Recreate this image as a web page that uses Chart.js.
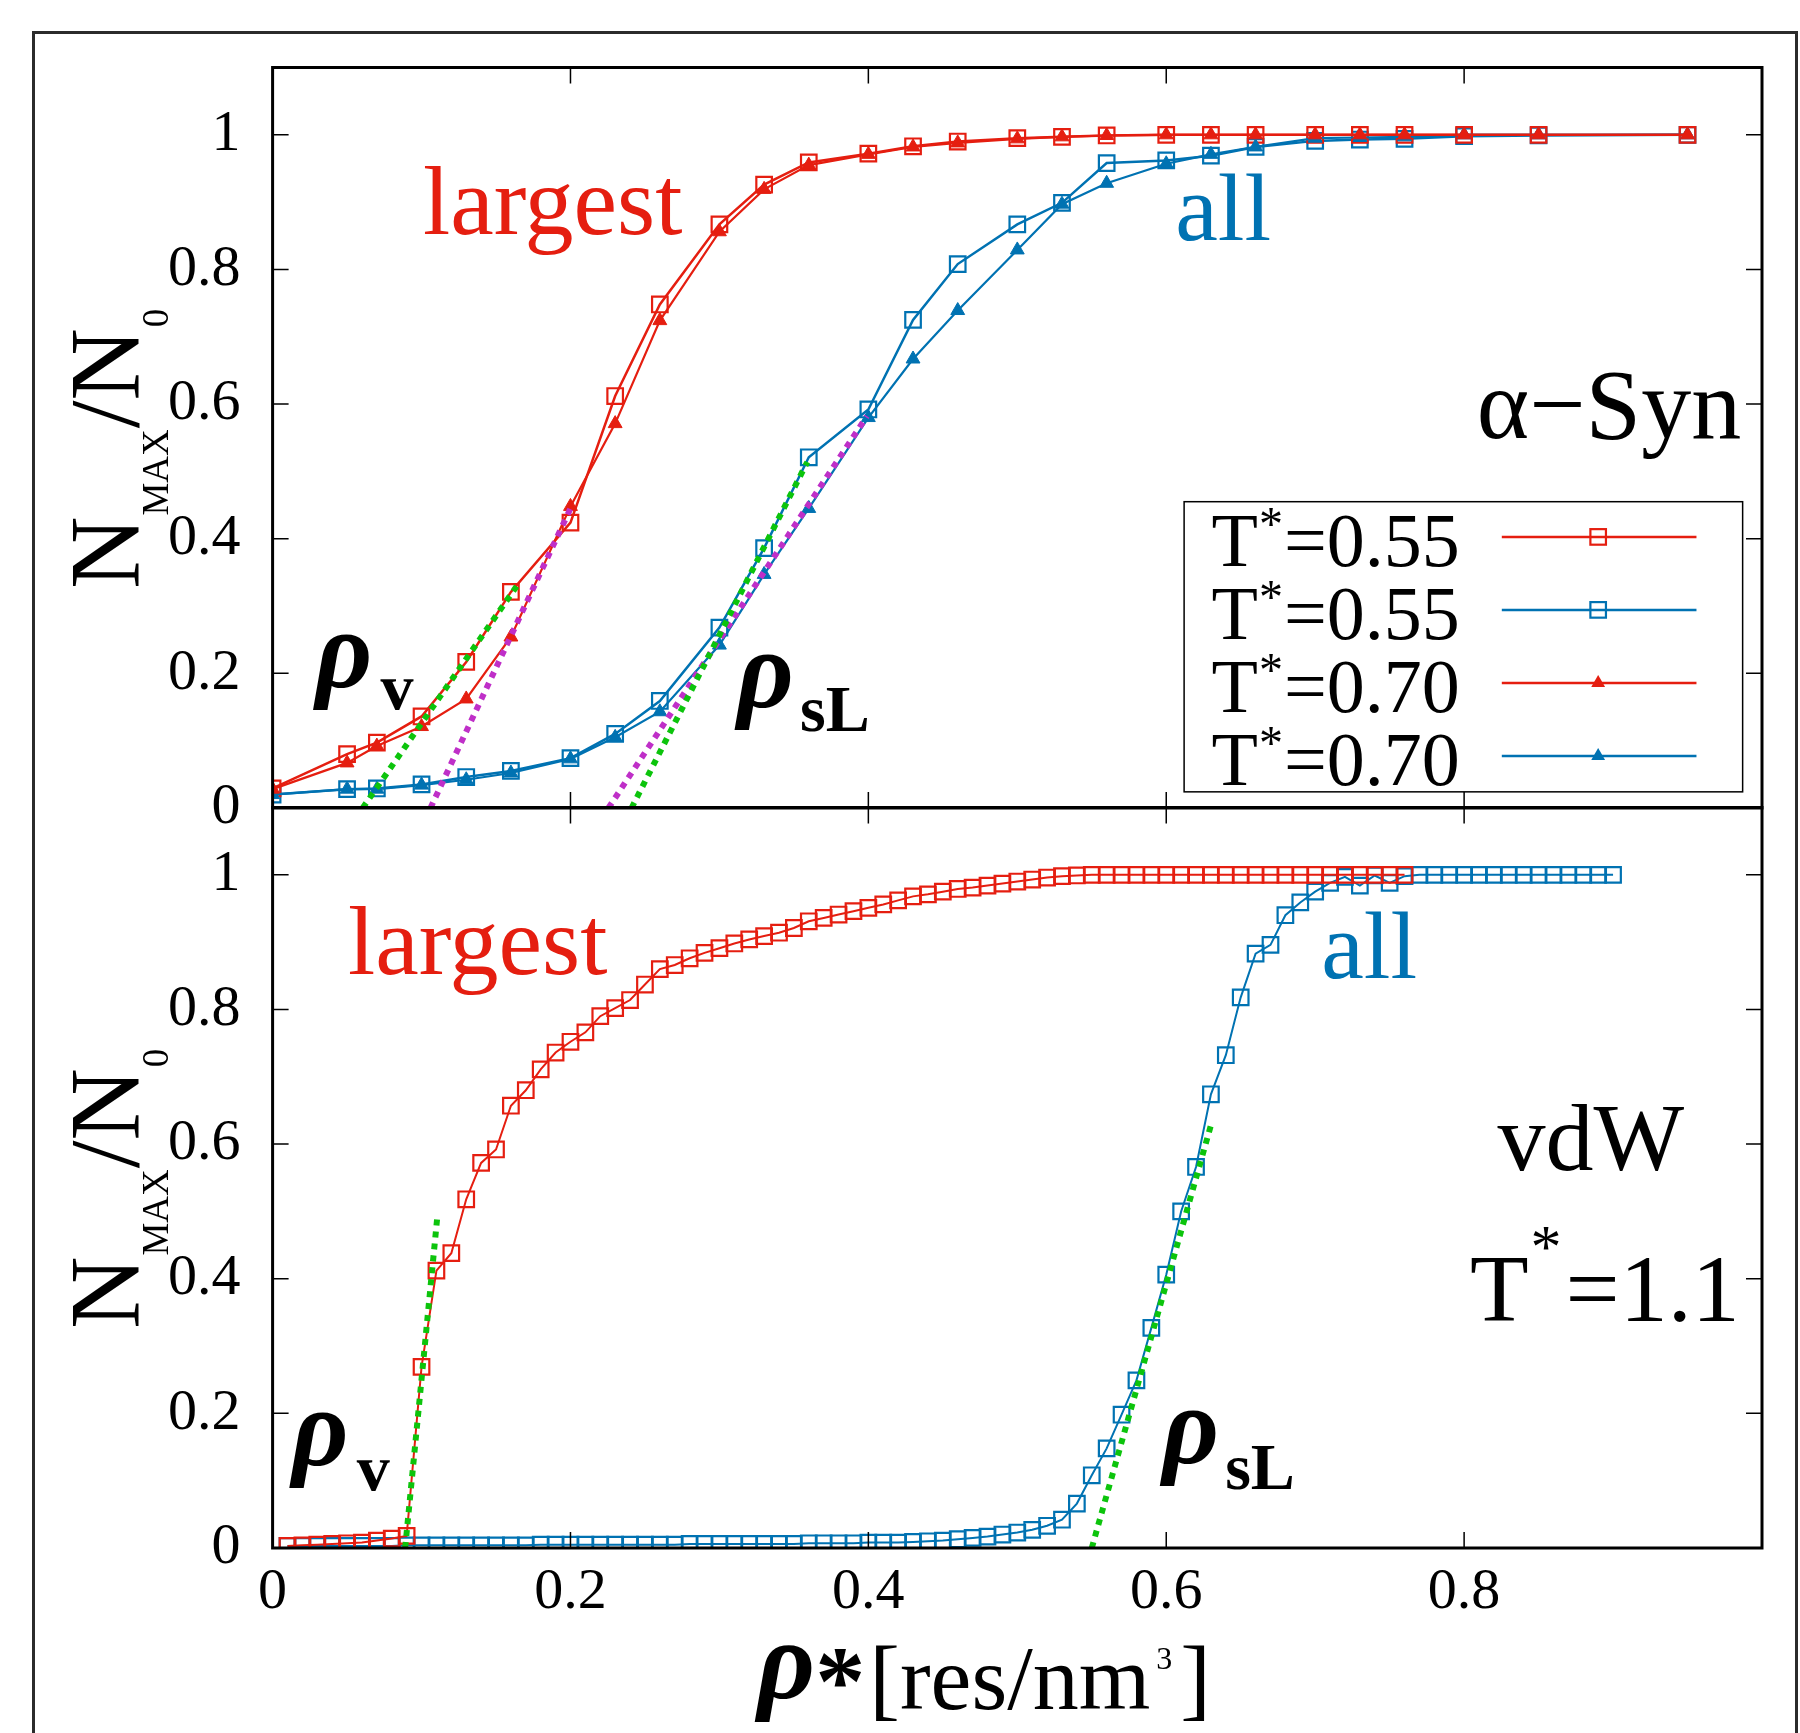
<!DOCTYPE html>
<html>
<head>
<meta charset="utf-8">
<script src="https://cdn.jsdelivr.net/npm/chart.js@4.4.1/dist/chart.umd.min.js"></script>
<style>
  html, body { margin: 0; padding: 0; background: #fff; }
  #page { position: relative; width: 1800px; height: 1733px; overflow: hidden; background: #fff; }
  #frame { position: absolute; left: 32px; top: 31px; width: 1766px; height: 1760px; border: 3px solid #2b2b2b; box-sizing: border-box; }
  canvas { position: absolute; left: 0; }
  #topChart { top: 0; }
  #botChart { top: 740px; }
</style>
</head>
<body>
<div id="page">
  <div id="frame"></div>
  <canvas id="topChart" width="1800" height="880"></canvas>
  <canvas id="botChart" width="1800" height="993"></canvas>
</div>
<script>
// ---- data ----
// upper panel (alpha-Syn), density values
const synRho = [0, 0.05, 0.07, 0.1, 0.13, 0.16, 0.2, 0.23, 0.26, 0.3, 0.33, 0.36, 0.4, 0.43, 0.46,
  0.5, 0.53, 0.56, 0.6, 0.63, 0.66, 0.7, 0.73, 0.76, 0.8, 0.85, 0.95];
const synLargest055 = [0.029, 0.080, 0.097, 0.136, 0.217, 0.321, 0.424, 0.612, 0.748, 0.867, 0.926, 0.959, 0.972, 0.983, 0.990,
  0.995, 0.997, 0.999, 1.0, 1.0, 1.0, 1.0, 1.0, 1.0, 1.0, 1.0, 1.0];
const synAll055 = [0.020, 0.028, 0.029, 0.035, 0.046, 0.055, 0.074, 0.110, 0.159, 0.268, 0.386, 0.521, 0.592, 0.725, 0.808,
  0.867, 0.899, 0.958, 0.962, 0.969, 0.982, 0.991, 0.993, 0.994, 0.998, 0.999, 1.0];
const synLargest070 = [0.028, 0.067, 0.092, 0.121, 0.162, 0.254, 0.448, 0.571, 0.724, 0.856, 0.919, 0.955, 0.971, 0.982, 0.988,
  0.994, 0.997, 0.999, 1.0, 1.0, 1.0, 1.0, 1.0, 1.0, 1.0, 1.0, 1.0];
const synAll070 = [0.020, 0.028, 0.028, 0.034, 0.042, 0.052, 0.073, 0.105, 0.143, 0.242, 0.347, 0.445, 0.580, 0.667, 0.739,
  0.829, 0.897, 0.928, 0.957, 0.971, 0.982, 0.995, 0.996, 0.997, 1.0, 1.0, 1.0];

// lower panel (vdW, T*=1.1)
const vdwRho = [0.01, 0.02, 0.03, 0.04, 0.05, 0.06, 0.07, 0.08, 0.09, 0.10,
  0.11, 0.12, 0.13, 0.14, 0.15, 0.16, 0.17, 0.18, 0.19, 0.20,
  0.21, 0.22, 0.23, 0.24, 0.25, 0.26, 0.27, 0.28, 0.29, 0.30,
  0.31, 0.32, 0.33, 0.34, 0.35, 0.36, 0.37, 0.38, 0.39, 0.40,
  0.41, 0.42, 0.43, 0.44, 0.45, 0.46, 0.47, 0.48, 0.49, 0.50,
  0.51, 0.52, 0.53, 0.54, 0.55, 0.56, 0.57, 0.58, 0.59, 0.60,
  0.61, 0.62, 0.63, 0.64, 0.65, 0.66, 0.67, 0.68, 0.69, 0.70,
  0.71, 0.72, 0.73, 0.74, 0.75, 0.76, 0.77, 0.78, 0.79, 0.80,
  0.81, 0.82, 0.83, 0.84, 0.85, 0.86, 0.87, 0.88, 0.89, 0.90];
const vdwLargest = [0.003, 0.004, 0.005, 0.006, 0.007, 0.008, 0.011, 0.014, 0.018, 0.269,
  0.412, 0.438, 0.518, 0.572, 0.592, 0.657, 0.680, 0.711, 0.736, 0.752,
  0.766, 0.790, 0.802, 0.814, 0.837, 0.860, 0.866, 0.876, 0.884, 0.891,
  0.898, 0.904, 0.909, 0.914, 0.921, 0.931, 0.936, 0.941, 0.946, 0.951,
  0.956, 0.962, 0.968, 0.971, 0.975, 0.979, 0.981, 0.984, 0.987, 0.990,
  0.993, 0.996, 0.998, 0.999, 1.0, 1.0, 1.0, 1.0, 1.0, 1.0,
  1.0, 1.0, 1.0, 1.0, 1.0, 1.0, 1.0, 1.0, 1.0, 1.0,
  1.0, 1.0, 1.0, 1.0, 1.0, 1.0];
const vdwAll = [0.003, 0.003, 0.003, 0.003, 0.003, 0.003, 0.003, 0.003, 0.004, 0.004,
  0.004, 0.004, 0.004, 0.004, 0.004, 0.004, 0.004, 0.005, 0.005, 0.005,
  0.005, 0.005, 0.005, 0.005, 0.005, 0.005, 0.005, 0.006, 0.006, 0.006,
  0.006, 0.006, 0.006, 0.006, 0.006, 0.007, 0.007, 0.007, 0.007, 0.008,
  0.008, 0.008, 0.009, 0.010, 0.011, 0.013, 0.015, 0.017, 0.020, 0.023,
  0.027, 0.033, 0.042, 0.066, 0.108, 0.148, 0.198, 0.249, 0.327, 0.406,
  0.500, 0.566, 0.674, 0.732, 0.818, 0.883, 0.896, 0.940, 0.959, 0.975,
  0.988, 0.997, 0.984, 0.999, 0.988, 0.998, 1.0, 1.0, 1.0, 1.0,
  1.0, 1.0, 1.0, 1.0, 1.0, 1.0, 1.0, 1.0, 1.0, 1.0];

// linear fits (dotted), end points [x0, x1] and [y0, y1]
const synFitVx = [0.0605, 0.164], synFitVy = [0, 0.33];
const synFitV2x = [0.106, 0.2], synFitV2y = [0, 0.445];
const synFitLx = [0.241, 0.359], synFitLy = [0, 0.514];
const synFitL2x = [0.2255, 0.399], synFitL2y = [0, 0.582];
const vdwFitVx = [0.089, 0.1105], vdwFitVy = [0, 0.49];
const vdwFitLx = [0.55, 0.63], vdwFitLy = [0, 0.628];

const xTicks = [0.2, 0.4, 0.6, 0.8];
const yTicks = [0.2, 0.4, 0.6, 0.8, 1.0];

const RED = '#e51e10';
const BLUE = '#0072b2';
const GREEN = '#0cc40c';
const MAGENTA = '#bf2fc8';
const SERIF = '"Liberation Serif", "Times New Roman", serif';

function pts(xs, ys) {
    return ys.map((y, i) => ({ x: xs[i], y: y }));
}

function squares(label, xs, ys, color, lw) {
    return {
        label: label, data: pts(xs, ys), showLine: true, order: 2,
        borderColor: color, borderWidth: lw, backgroundColor: 'rgba(0,0,0,0)',
        pointStyle: 'rect', pointRadius: 11, pointBorderWidth: 2.2,
        pointBorderColor: color, pointBackgroundColor: 'rgba(0,0,0,0)'
    };
}

function triangles(label, xs, ys, color) {
    return {
        label: label, data: pts(xs, ys), showLine: true, order: 1,
        borderColor: color, borderWidth: 2.2, backgroundColor: color,
        pointStyle: 'triangle', pointRadius: 8, pointBorderWidth: 1,
        pointBorderColor: color, pointBackgroundColor: color
    };
}

function fit(xs, ys, color) {
    return {
        fit: true, data: pts(xs, ys), showLine: true, order: 0,
        borderColor: color, borderWidth: 6, borderDash: [6, 6], pointRadius: 0
    };
}

function font(size, style) {
    return (style ? style + ' ' : '') + size + 'px ' + SERIF;
}

// draws a run of text pieces (for sub/superscripts) starting at x, baseline y
function drawRun(ctx, x, y, parts, align) {
    let total = 0;
    parts.forEach(p => { ctx.font = p.font; total += ctx.measureText(p.t).width + (p.dx || 0); });
    if (align === 'right') x -= total;
    if (align === 'center') x -= total / 2;
    parts.forEach(p => {
        ctx.font = p.font;
        ctx.fillStyle = p.color || '#000';
        x += (p.dx || 0);
        ctx.fillText(p.t, x, y + (p.dy || 0));
        x += ctx.measureText(p.t).width;
    });
    return total;
}

const rho = (sub, dx, dy) => [
    { t: 'ρ', font: font(110, 'italic bold') },
    { t: sub, font: font(66, 'bold'), dx: dx, dy: dy }
];

const panelPlugin = {
    id: 'panel',
    afterDraw(chart, args, opts) {
        const ctx = chart.ctx;
        const a = chart.chartArea;
        const xs = chart.scales.x, ys = chart.scales.y;
        ctx.save();
        ctx.textAlign = 'left';
        ctx.textBaseline = 'alphabetic';

        // inward tick marks on all four sides
        ctx.strokeStyle = '#000';
        ctx.lineWidth = 1.5;
        ctx.beginPath();
        yTicks.forEach(v => {
            const py = ys.getPixelForValue(v);
            ctx.moveTo(a.left, py); ctx.lineTo(a.left + 16, py);
            ctx.moveTo(a.right, py); ctx.lineTo(a.right - 16, py);
        });
        xTicks.forEach(v => {
            const px = xs.getPixelForValue(v);
            ctx.moveTo(px, a.bottom); ctx.lineTo(px, a.bottom - 16);
            ctx.moveTo(px, a.top); ctx.lineTo(px, a.top + 16);
        });
        ctx.stroke();
        ctx.lineWidth = 3;
        ctx.strokeRect(a.left, a.top, a.right - a.left, a.bottom - a.top);

        // text labels inside the panel
        opts.notes.forEach(n => {
            drawRun(ctx, xs.getPixelForValue(n.x), ys.getPixelForValue(n.y), n.parts, n.align);
        });

        // rotated y title  N_MAX / N_0
        const yParts = [
            { t: 'N', font: font(100) },
            { t: 'MAX', font: font(37), dy: 30, dx: 1 },
            { t: '/', font: font(100), dx: 1 },
            { t: 'N', font: font(100) },
            { t: '0', font: font(37), dy: 30, dx: 1 }
        ];
        ctx.save();
        ctx.translate(a.left - 135, (a.top + a.bottom) / 2 + 11);
        ctx.rotate(-Math.PI / 2);
        drawRun(ctx, 0, 0, yParts, 'center');
        ctx.restore();

        if (opts.xTitle) {
            drawRun(ctx, a.left + 485, a.bottom + 161, [
                { t: 'ρ', font: font(112, 'italic bold'), dy: -11 },
                { t: '*', font: font(100, 'bold'), dy: 5 },
                { t: '[res/nm', font: font(92), dx: 4 },
                { t: '3', font: font(32), dx: 6, dy: -40 },
                { t: ']', font: font(92), dx: 8 }
            ]);
        }

        if (opts.legend) {
            const L = opts.legend;
            const bx0 = xs.getPixelForValue(L.box[0]), bx1 = xs.getPixelForValue(L.box[1]);
            const by0 = ys.getPixelForValue(L.box[2]), by1 = ys.getPixelForValue(L.box[3]);
            ctx.lineWidth = 1.5;
            ctx.strokeStyle = '#000';
            ctx.strokeRect(bx0, by0, bx1 - bx0, by1 - by0);
            const lx0 = xs.getPixelForValue(L.line[0]), lx1 = xs.getPixelForValue(L.line[1]);
            const mx = xs.getPixelForValue(L.marker);
            const tx = xs.getPixelForValue(L.text);
            const series = chart.data.datasets.filter(d => !d.fit);
            series.forEach((d, i) => {
                const py = ys.getPixelForValue(L.rows[i]);
                ctx.strokeStyle = d.borderColor;
                ctx.lineWidth = 2.5;
                ctx.beginPath();
                ctx.moveTo(lx0, py); ctx.lineTo(lx1, py);
                ctx.stroke();
                if (d.pointStyle === 'rect') {
                    const s = d.pointRadius * Math.SQRT1_2;
                    ctx.lineWidth = d.pointBorderWidth;
                    ctx.strokeRect(mx - s, py - s, 2 * s, 2 * s);
                } else {
                    const r = d.pointRadius;
                    ctx.fillStyle = d.pointBackgroundColor;
                    ctx.beginPath();
                    ctx.moveTo(mx, py - r);
                    ctx.lineTo(mx + r * 0.866, py + r / 2);
                    ctx.lineTo(mx - r * 0.866, py + r / 2);
                    ctx.closePath();
                    ctx.fill();
                }
                const bits = d.label.split('*');
                drawRun(ctx, tx, py + 29, [
                    { t: bits[0], font: font(76) },
                    { t: '*', font: font(48), dy: -26, dx: 1 },
                    { t: bits[1], font: font(76), dx: 1 }
                ]);
            });
        }
        ctx.restore();
    }
};

function panelOptions(bottom, pluginOpts) {
    return {
        responsive: false,
        animation: false,
        devicePixelRatio: 1,
        layout: { padding: { left: 0, right: 38, top: 67.5, bottom: bottom ? 0 : 72 } },
        plugins: { legend: { display: false }, tooltip: { enabled: false }, panel: pluginOpts },
        scales: {
            x: {
                type: 'linear', min: 0, max: 1, display: bottom,
                grid: { display: false }, border: { display: false },
                ticks: { stepSize: 0.2, color: '#000', padding: 2, maxRotation: 0, font: { family: SERIF, size: 58 },
                         callback: v => String(+v.toFixed(1)) },
                afterBuildTicks: s => { s.ticks = s.ticks.filter(t => t.value < 0.9); },
                afterFit: s => { s.height = bottom ? 185 : 0; }
            },
            y: {
                type: 'linear', min: 0, max: 1.1,
                grid: { display: false }, border: { display: false },
                ticks: { stepSize: 0.2, color: '#000', padding: 24, font: { family: SERIF, size: 58 },
                         callback: v => String(+v.toFixed(1)) },
                afterBuildTicks: s => { s.ticks = s.ticks.filter(t => t.value < 1.05); },
                afterFit: s => { s.width = 272.6; }
            }
        }
    };
}

new Chart(document.getElementById('topChart'), {
    type: 'scatter',
    data: {
        datasets: [
            squares('T*=0.55', synRho, synLargest055, RED, 2.5),
            squares('T*=0.55', synRho, synAll055, BLUE, 2.5),
            triangles('T*=0.70', synRho, synLargest070, RED),
            triangles('T*=0.70', synRho, synAll070, BLUE),
            fit(synFitVx, synFitVy, GREEN),
            fit(synFitV2x, synFitV2y, MAGENTA),
            fit(synFitLx, synFitLy, GREEN),
            fit(synFitL2x, synFitL2y, MAGENTA)
        ]
    },
    options: panelOptions(false, {
        notes: [
            { x: 0.101, y: 0.852, parts: [{ t: 'largest', font: font(98), color: RED }] },
            { x: 0.606, y: 0.844, parts: [{ t: 'all', font: font(96), color: BLUE }] },
            { x: 0.986, y: 0.55, align: 'right', parts: [{ t: 'α−Syn', font: font(100) }] },
            { x: 0.029, y: 0.18, parts: rho('v', 8, 22) },
            { x: 0.312, y: 0.15, parts: rho('sL', 6, 24) }
        ],
        legend: {
            box: [0.612, 0.987, 0.455, 0.024],
            line: [0.8253, 0.956],
            marker: 0.890,
            text: 0.6304,
            rows: [0.4027, 0.2943, 0.1858, 0.0773]
        }
    }),
    plugins: [panelPlugin]
});

new Chart(document.getElementById('botChart'), {
    type: 'scatter',
    data: {
        datasets: [
            squares('largest', vdwRho, vdwLargest, RED, 2),
            squares('all', vdwRho, vdwAll, BLUE, 2),
            fit(vdwFitVx, vdwFitVy, GREEN),
            fit(vdwFitLx, vdwFitLy, GREEN)
        ]
    },
    options: panelOptions(true, {
        xTitle: true,
        notes: [
            { x: 0.0506, y: 0.852, parts: [{ t: 'largest', font: font(98), color: RED }] },
            { x: 0.704, y: 0.846, parts: [{ t: 'all', font: font(96), color: BLUE }] },
            { x: 0.885, y: 0.562, align: 'center', parts: [{ t: 'vdW', font: font(96) }] },
            { x: 0.985, y: 0.337, align: 'right', parts: [
                { t: 'T', font: font(96) },
                { t: '*', font: font(62), dy: -54, dx: 2 },
                { t: '=1.1', font: font(96), dx: 4 }
            ] },
            { x: 0.013, y: 0.123, parts: rho('v', 8, 25) },
            { x: 0.5975, y: 0.126, parts: rho('sL', 6, 26) }
        ]
    }),
    plugins: [panelPlugin]
});
</script>
</body>
</html>
